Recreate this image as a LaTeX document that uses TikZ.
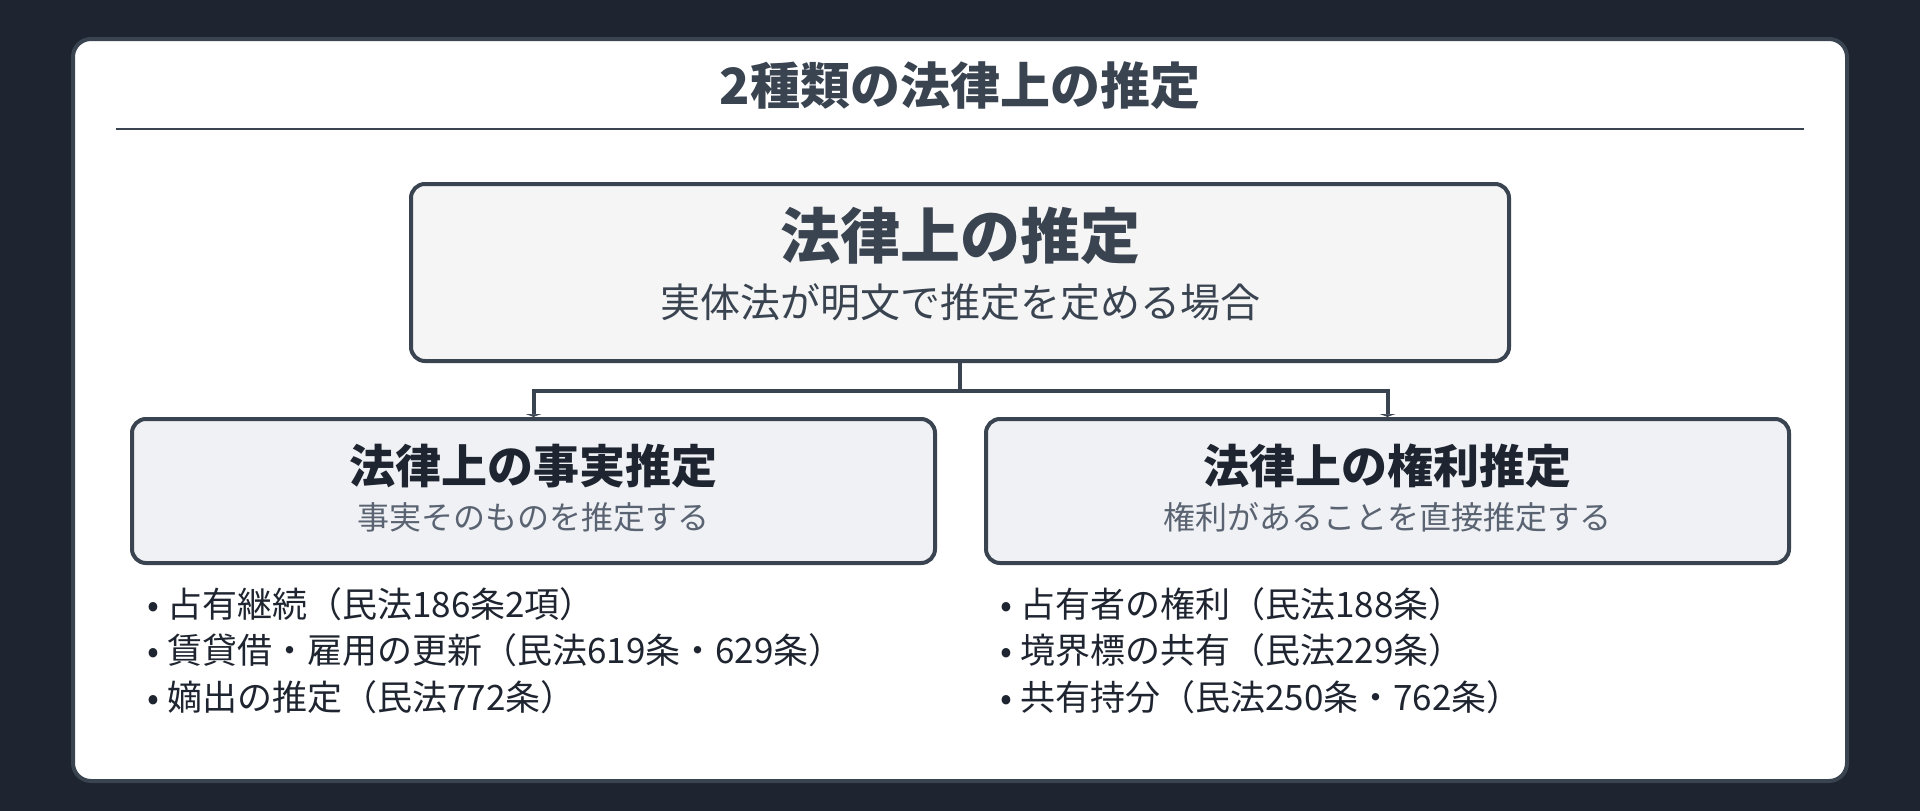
\documentclass[tikz,border=0pt]{standalone}
\usepackage{fontspec}
\setmainfont{Noto Sans CJK JP}
\usetikzlibrary{arrows.meta}

\definecolor{bgdark}{HTML}{1E2430}
\definecolor{slate}{HTML}{3A4451}
\definecolor{ink}{HTML}{1F2530}
\definecolor{subgrey}{HTML}{5A6371}
\definecolor{topfill}{HTML}{F5F5F5}
\definecolor{childfill}{HTML}{EFF1F5}

\tikzset{every picture/.style={line width=0.75pt}}
\tikzset{
  mainbox/.style={draw=slate, fill=topfill, line width=4, rounded corners=14,
    minimum width=1098, minimum height=177, inner sep=0},
  kindbox/.style={draw=slate, fill=childfill, line width=4, rounded corners=14,
    minimum width=803, minimum height=144, inner sep=0},
  link/.style={draw=slate, line width=4},
  item/.style={anchor=west, inner sep=0, text=ink, font=\fontsize{35}{40}\selectfont}
}

\begin{document}
\begin{tikzpicture}[x=1pt,y=1pt,yscale=-1]
%set diagram to 1920 x 811
\fill[bgdark] (0,0) rectangle (1920,811);
\useasboundingbox (0,0) rectangle (1920,811);

%Rounded Rect (panel)
\draw[slate, fill=white, line width=4, rounded corners=18] (73,39) rectangle (1847,781);

% Text Node
\node[text=slate, font=\bfseries\fontsize{50}{56}\selectfont] (heading) at (960,86) {2種類の法律上の推定};
%Straight Lines
\draw[slate, line width=2.5] (116,129) -- (1804,129);

%Boxes
\node[mainbox] (law) at (960,272.5) {};
\node[kindbox] (fact) at (533.5,491) {};
\node[kindbox] (right) at (1387.5,491) {};

% Text Node
\node[text=slate, font=\bfseries\fontsize{60}{66}\selectfont] (lawtitle) at (960,236) {法律上の推定};
\node[text=slate, font=\fontsize{40}{44}\selectfont] (lawsub) at (960,302) {実体法が明文で推定を定める場合};
\node[text=ink, font=\bfseries\fontsize{46}{50}\selectfont] (facttitle) at (533.5,466) {法律上の事実推定};
\node[text=subgrey, font=\fontsize{32}{36}\selectfont] (factsub) at (533.5,517) {事実そのものを推定する};
\node[text=ink, font=\bfseries\fontsize{46}{50}\selectfont] (righttitle) at (1387.5,466) {法律上の権利推定};
\node[text=subgrey, font=\fontsize{32}{36}\selectfont] (rightsub) at (1387.5,517) {権利があることを直接推定する};

%Connectors
\coordinate (fork) at (960,391);
\draw[link] (law.south) -- (fork);
\draw[link, -{Latex[length=3,width=18]}] (fork) -| (fact.north);
\draw[link, -{Latex[length=3,width=18]}] (fork) -| (right.north);

% Text Node (items)
\node[item] (fact1) at (147,604) {•\hspace{8pt}占有継続（民法186条2項）};
\node[item] (fact2) at (147,650) {•\hspace{8pt}賃貸借・雇用の更新（民法619条・629条）};
\node[item] (fact3) at (147,697) {•\hspace{8pt}嫡出の推定（民法772条）};
\node[item] (right1) at (1000,604) {•\hspace{8pt}占有者の権利（民法188条）};
\node[item] (right2) at (1000,650) {•\hspace{8pt}境界標の共有（民法229条）};
\node[item] (right3) at (1000,697) {•\hspace{8pt}共有持分（民法250条・762条）};

\end{tikzpicture}
\end{document}
